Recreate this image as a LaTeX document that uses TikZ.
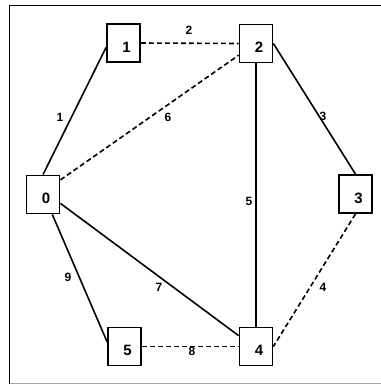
\documentclass[tikz,border=0pt]{standalone}
\usepackage{fontspec}
\setmainfont{Liberation Sans}
\begin{document}
\begin{tikzpicture}[x=1pt,y=-1pt,
  vbox/.style={draw, line width=1.8pt, minimum width=33pt, minimum height=38pt, inner sep=0pt},
  nlab/.style={font=\fontsize{15}{15}\selectfont\bfseries, xshift=3pt, yshift=-4pt},
  elab/.style={font=\fontsize{12}{12}\selectfont\bfseries, inner sep=0pt},
  solidedge/.style={line width=1.6pt},
  dashedge/.style={line width=1.6pt, dash pattern=on 5pt off 3pt}]
\useasboundingbox (0,0) rectangle (381,384);
% frame
\draw[line width=1.8pt] (9.5,5.5) -- (381,5.5);
\draw[line width=1.8pt] (9.5,5) -- (9.5,384);
\draw[line width=1pt, black!35] (9.5,383) -- (381,383);
% nodes
\node[vbox, label={[nlab]center:0}] (n0) at (43,194.5) {};
\node[vbox, label={[nlab]center:1}] (n1) at (123.5,43) {};
\node[vbox, label={[nlab]center:2}] (n2) at (256,43.5) {};
\node[vbox, label={[nlab]center:3}] (n3) at (355.5,194) {};
\node[vbox, label={[nlab]center:4}] (n4) at (256,346.5) {};
\node[vbox, label={[nlab]center:5}] (n5) at (124.5,346.5) {};
% edges
\draw[solidedge] (n0.north) -- (n1.194);
\draw[dashedge] (n1.east) -- (n2.west);
\draw[dashedge] (n0.40) -- (n2.214);
\draw[solidedge] (n2.east) -- (n3.north);
\draw[solidedge] (n2.south) -- (n4.north);
\draw[dashedge] (n3.south) -- (n4.east);
\draw[solidedge] (n0.-27) -- (n4.148);
\draw[solidedge] (n0.-65) -- (n5.165);
\draw[dashedge] (n5.east) -- (n4.west);
% edge labels
\node[elab] (l1) at (60,117) {1};
\node[elab] (l2) at (189,30) {2};
\node[elab] (l6) at (168,117) {6};
\node[elab] (l3) at (323,116) {3};
\node[elab] (l5) at (249,201) {5};
\node[elab] (l4) at (323,287) {4};
\node[elab] (l7) at (159,287) {7};
\node[elab] (l9) at (68,277) {9};
\node[elab] (l8) at (192,351) {8};
\end{tikzpicture}
\end{document}
